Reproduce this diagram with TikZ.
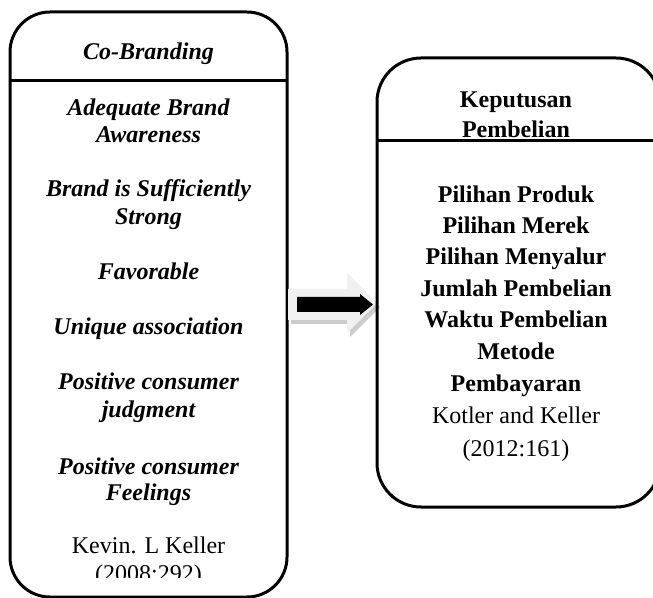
\documentclass[tikz,border=0pt]{standalone}
\usepackage{fontspec}
\setmainfont{Liberation Serif}
\usetikzlibrary{
    calc,
    positioning
}
\tikzset{
    boxline/.style={line width=1.5pt},
    lefttext/.style={anchor=base, font=\fontsize{12}{14}\selectfont\bfseries\itshape},
    righttext/.style={anchor=base, font=\fontsize{12}{14}\selectfont\bfseries},
    sourcetext/.style={anchor=base, font=\fontsize{12}{14}\selectfont}
}

\begin{document}
\begin{tikzpicture}[x=0.5pt, y=-0.5pt]
                        \useasboundingbox (0, 0) rectangle (653, 598);
                        \draw[boxline, rounded corners=20pt]
                        (10, 12) rectangle (287, 597);
                        \draw[boxline] (10, 81) -- (287, 81);
                        \node[lefttext] (cobrand) at (148.5, 60) {Co-Branding};
                        \node[lefttext] (aware1) at (148.5, 116) {Adequate Brand};
                        \node[lefttext] (aware2) at (148.5, 143) {Awareness};
                        \node[lefttext] (strong1) at (148.5, 197) {Brand is Sufficiently};
                        \node[lefttext] (strong2) at (148.5, 225) {Strong};
                        \node[lefttext] (favor) at (148.5, 280) {Favorable};
                        \node[lefttext] (unique) at (148.5, 335) {Unique association};
                        \node[lefttext] (judge1) at (148.5, 390) {Positive consumer};
                        \node[lefttext] (judge2) at (148.5, 417) {judgment};
                        \node[lefttext] (feel1) at (148.5, 474) {Positive consumer};
                        \node[lefttext] (feel2) at (148.5, 500) {Feelings};
                        \node[sourcetext] (keller1) at (148.5, 553) {Kevin. L Keller};
                        \begin{scope}
                        \clip (12, 560) rectangle (285, 577);
                        \node[sourcetext] (keller2) at (148.5, 581) {(2008:292)};
                        \end{scope}
                        \fill[black!20]
                        (291, 293) -- (350, 293) -- (350, 277) -- (380, 307)
                        -- (350, 337) -- (350, 324) -- (291, 324) -- cycle;
                        \fill[black!6]
                        (288, 289) -- (347, 289) -- (347, 273) -- (377, 303)
                        -- (347, 333) -- (347, 320) -- (288, 320) -- cycle;
                        \fill[black]
                        (297, 297) -- (360, 297) -- (360, 294) -- (373, 304.5)
                        -- (360, 315) -- (360, 312) -- (297, 312) -- cycle;
                        \draw[boxline, rounded corners=22pt]
                        (377, 58) rectangle (660, 507);
                        \draw[boxline] (377, 141) -- (660, 141);
                        \node[righttext] (keputusan1) at (516, 108) {Keputusan};
                        \node[righttext] (keputusan2) at (516, 138) {Pembelian};
                        \node[righttext] (produk) at (516, 203) {Pilihan Produk};
                        \node[righttext] (merek) at (516, 234) {Pilihan Merek};
                        \node[righttext] (menyalur) at (516, 265) {Pilihan Menyalur};
                        \node[righttext] (jumlah) at (516, 297) {Jumlah Pembelian};
                        \node[righttext] (waktu) at (516, 328) {Waktu Pembelian};
                        \node[righttext] (metode1) at (516, 360) {Metode};
                        \node[righttext] (metode2) at (516, 392) {Pembayaran};
                        \node[sourcetext] (kotler1) at (516, 423) {Kotler and Keller};
                        \node[sourcetext] (kotler2) at (516, 457) {(2012:161)};
                    \end{tikzpicture}
\end{document}
